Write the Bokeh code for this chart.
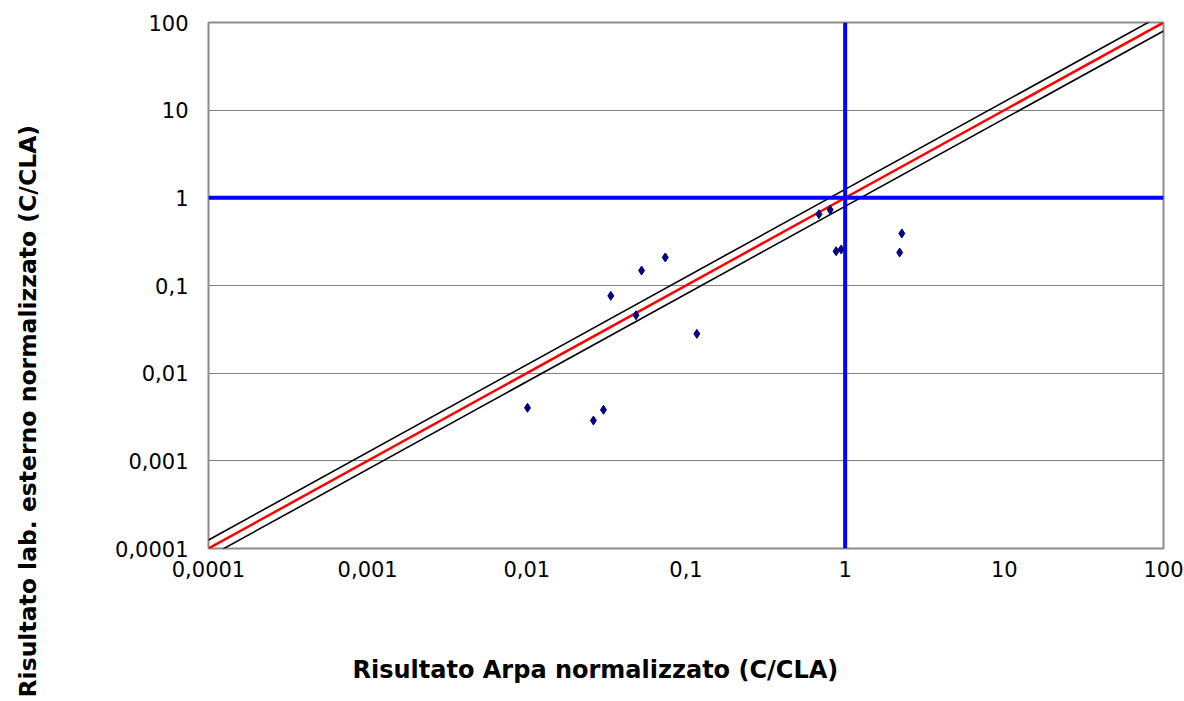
import numpy as np
from bokeh.plotting import figure
from bokeh.models import FixedTicker, Span, Title, ColumnDataSource
from bokeh.embed import file_html
from bokeh.resources import INLINE

# --- data ---
arpa = [0.0101, 0.0262, 0.0303, 0.0337, 0.0485, 0.0526, 0.0741, 0.117,
        0.684, 0.805, 0.877, 0.944, 2.27, 2.20]
ext = [0.00403, 0.00288, 0.00382, 0.0762, 0.0458, 0.148, 0.209, 0.0281,
       0.650, 0.730, 0.246, 0.258, 0.392, 0.238]
tick_values = [0.0001, 0.001, 0.01, 0.1, 1, 10, 100]
tick_labels = ["0,0001", "0,001", "0,01", "0,1", "1", "10", "100"]
line_x = [0.0001, 100]
upper_factor = 1.25
lower_factor = 0.8
ref_value = 1
x_title = "Risultato Arpa normalizzato (C/CLA)"
y_title = "Risultato lab. esterno normalizzato (C/CLA)"

FONT = "DejaVu Sans"

p = figure(width=1184, height=701, x_axis_type="log", y_axis_type="log",
           x_range=(0.0001, 100), y_range=(0.0001, 100),
           output_backend="svg", toolbar_location=None,
           min_border_left=208, min_border_right=21,
           min_border_top=22, min_border_bottom=153)
p.background_fill_color = "white"
p.border_fill_color = "white"
p.outline_line_color = "#8c8c8c"
p.outline_line_width = 2

for ax in (p.xaxis[0], p.yaxis[0]):
    ax.ticker = FixedTicker(ticks=tick_values)
    ax.major_label_overrides = {v: l for v, l in zip(tick_values, tick_labels)}
    ax.major_tick_line_color = None
    ax.minor_tick_line_color = None
    ax.major_tick_out = 0
    ax.major_tick_in = 0
    ax.axis_line_color = None
    ax.major_label_text_font = FONT
    ax.major_label_text_font_size = "21px"
    ax.major_label_text_color = "black"
    # blank spacer label pushes the titles outward
    ax.axis_label = " "
    ax.axis_label_text_font_size = "1px"
p.xaxis.major_label_standoff = 12
p.yaxis.major_label_standoff = 20
p.xaxis.axis_label_standoff = 60
p.yaxis.axis_label_standoff = 56

p.xgrid.grid_line_color = None
p.ygrid.grid_line_color = "#808080"
p.ygrid.grid_line_width = 1
p.ygrid.ticker = FixedTicker(ticks=tick_values)

# blue reference lines
p.add_layout(Span(location=ref_value, dimension="height", line_color="#0000ff", line_width=4))
p.add_layout(Span(location=ref_value, dimension="width", line_color="#0000ff", line_width=4))

# tolerance lines and 1:1 line
p.line(line_x, [v * upper_factor for v in line_x], line_color="black", line_width=1.6)
p.line(line_x, [v * lower_factor for v in line_x], line_color="black", line_width=1.6)
p.line(line_x, line_x, line_color="#ff0000", line_width=2.5)

src = ColumnDataSource(dict(x=arpa, y=ext))
p.scatter("x", "y", source=src, marker="diamond", size=9,
          fill_color="#000080", line_color="#000080")

# axis titles
p.add_layout(Title(text=x_title, align="left", offset=144, standoff=20,
                   text_font=FONT, text_font_style="bold", text_font_size="24px",
                   text_color="black"), "below")
p.add_layout(Title(text=y_title, align="left", offset=-149, standoff=20,
                   text_font=FONT, text_font_style="bold", text_font_size="23.5px",
                   text_color="black"), "left")

open("out.html", "w").write(file_html(p, INLINE))
